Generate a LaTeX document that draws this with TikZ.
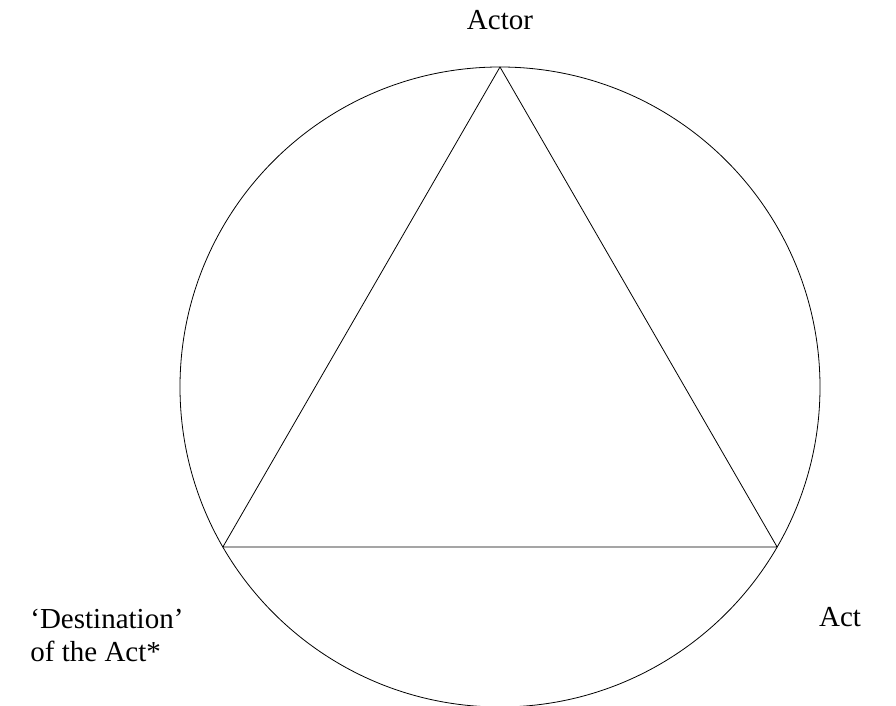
\documentclass[tikz,border=0pt]{standalone}
\usepackage{fontspec}
\setmainfont{Liberation Serif}
\begin{document}
\begin{tikzpicture}[declare function={r=3.2;}, line cap=round, line join=round, font={\fontsize{14.5}{16.5}\selectfont}, x=1.757cm, y=1.757cm]
	\useasboundingbox (-5,-3.19) rectangle (3.96,3.87);
	\path (0,0) coordinate (O)
	(90:r) coordinate (A)
	(210:r) coordinate (D)
	(-30:r) coordinate (C);
	
	\draw (O) circle (r);
	\draw (A) -- (C) -- (D) -- cycle;
	
	\node (actor) at (0,3.665) {Actor};
	\node (act) at (3.40,-2.305) {Act};
	\node[align=left, anchor=north west, inner sep=0pt] (dest) at (-4.70,-2.22) {`Destination'\\of the Act*};
\end{tikzpicture}
\end{document}
